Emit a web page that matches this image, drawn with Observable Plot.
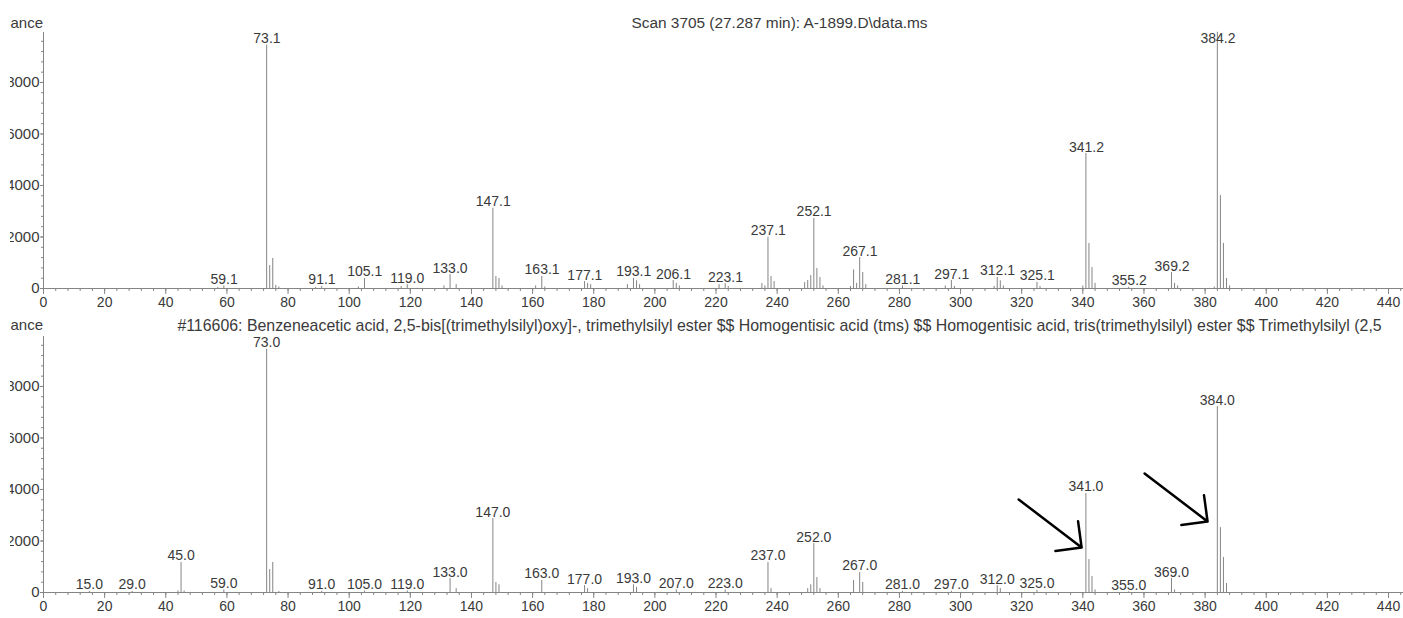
<!DOCTYPE html>
<html><head><meta charset="utf-8">
<script src="https://cdn.jsdelivr.net/npm/d3@7"></script>
<script src="https://cdn.jsdelivr.net/npm/@observablehq/plot@0.6"></script>
<style>
html,body{margin:0;padding:0;background:#fff;overflow:hidden;width:1403px;height:618px;}
#wrap{position:absolute;left:10px;top:0;width:1393px;height:618px;overflow:hidden;}
.panel{position:absolute;left:-10px;}
.panel svg{overflow:visible;}
</style></head><body>
<div id="wrap"><div id="p1" class="panel" style="top:0"></div><div id="p2" class="panel" style="top:304px"></div></div>
<script>
// ---- data ----
const topTitle = "Scan 3705 (27.287 min): A-1899.D\\data.ms";
const bottomTitle = "#116606: Benzeneacetic acid, 2,5-bis[(trimethylsilyl)oxy]-, trimethylsilyl ester $$ Homogentisic acid (tms) $$ Homogentisic acid, tris(trimethylsilyl) ester $$ Trimethylsilyl (2,5";
const yLabel = "Abundance";
const xTickLabels = [0, 20, 40, 60, 80, 100, 120, 140, 160, 180, 200, 220, 240, 260, 280, 300, 320, 340, 360, 380, 400, 420, 440];
const yTickLabels = [0, 2000, 4000, 6000, 8000];

const topMz = [57, 59, 73, 74, 75, 76, 77, 89, 91, 103, 105, 117, 119, 131, 133, 135, 147, 148, 149, 150, 161, 163, 164, 177, 178, 179, 191, 193, 194, 195, 206, 207, 208, 221, 223, 224, 235, 236, 237, 238, 239, 249, 250, 251, 252, 253, 254, 255, 264, 265, 266, 267, 268, 269, 281, 295, 297, 298, 311, 312, 313, 314, 325, 326, 340, 341, 342, 343, 344, 355, 369, 370, 371, 383, 384, 385, 386, 387, 388];
const topAb = [40, 100, 9450, 890, 1165, 120, 60, 40, 80, 60, 390, 80, 150, 100, 540, 150, 3110, 470, 390, 100, 100, 470, 60, 270, 200, 150, 150, 390, 300, 150, 310, 200, 100, 150, 190, 80, 190, 100, 1990, 466, 270, 230, 310, 500, 2720, 780, 430, 100, 80, 720, 200, 1200, 620, 150, 100, 100, 310, 80, 80, 430, 300, 100, 235, 80, 100, 5240, 1750, 815, 200, 50, 620, 200, 100, 60, 9950, 3610, 1750, 390, 100];
const topLabels = ["59.1", "73.1", "91.1", "105.1", "119.0", "133.0", "147.1", "163.1", "177.1", "193.1", "206.1", "223.1", "237.1", "252.1", "267.1", "281.1", "297.1", "312.1", "325.1", "341.2", "355.2", "369.2", "384.2"];

const botMz = [15, 29, 44, 45, 46, 59, 73, 74, 75, 77, 91, 105, 119, 133, 135, 147, 148, 149, 163, 177, 178, 193, 194, 207, 223, 237, 238, 250, 251, 252, 253, 254, 265, 267, 268, 281, 297, 312, 313, 325, 341, 342, 343, 344, 355, 369, 370, 384, 385, 386, 387];
const botAb = [40, 40, 60, 1165, 60, 100, 9450, 890, 1165, 40, 50, 60, 60, 540, 150, 2870, 390, 300, 466, 270, 150, 300, 200, 100, 100, 1165, 150, 150, 300, 1900, 580, 150, 466, 780, 390, 50, 50, 270, 150, 80, 3845, 1280, 620, 100, 30, 540, 100, 7220, 2520, 1360, 350];
const botLabels = ["15.0", "29.0", "45.0", "59.0", "73.0", "91.0", "105.0", "119.0", "133.0", "147.0", "163.0", "177.0", "193.0", "207.0", "223.0", "237.0", "252.0", "267.0", "281.0", "297.0", "312.0", "325.0", "341.0", "355.0", "369.0", "384.0"];

// annotation arrows on the library spectrum (m/z, abundance)
const arrowX1 = [319.0, 360.2];
const arrowY1 = [3612, 4621];
const arrowX2 = [339.6, 380.8];
const arrowY2 = [1748, 2757];

// ---- build ----
const FONT = "'Liberation Sans', Arial, Helvetica, sans-serif";
const TEXT = "#3a3a3a";
const GRAY = "#858585";
const minorX = d3.range(0, 445, 4);
const minorY = d3.range(0, 9941, 400);

function peaksOf(mz, ab) { return mz.map((m, i) => ({mz: m, ab: ab[i]})); }
function labelsOf(labels, peaks) {
  return labels.map(l => {
    const v = parseFloat(l);
    const p = peaks.find(d => d.mz === Math.round(v));
    return {mz: v, ab: p ? p.ab : 0, label: l};
  });
}

function panel(peaks, labels, title, titleDy, titleSize, height, marginBottom, extra = []) {
  return Plot.plot({
    width: 1403, height,
    marginLeft: 43, marginRight: 0, marginTop: 32, marginBottom,
    style: {fontFamily: FONT, fontSize: "14px", color: TEXT, background: "transparent", overflow: "visible"},
    x: {domain: [0, 444.9], axis: null},
    y: {domain: [0, 9940], axis: null},
    marks: [
      Plot.ruleY([0], {stroke: GRAY}),
      Plot.ruleX([0], {stroke: GRAY}),
      Plot.axisX({ticks: minorX, tickSize: 3, tickFormat: () => "", stroke: GRAY, label: null}),
      Plot.axisX({ticks: xTickLabels, tickSize: 6, tickPadding: 3, stroke: GRAY, fill: TEXT, fontSize: 14, label: null}),
      Plot.axisY({ticks: minorY, tickSize: 2, tickFormat: () => "", stroke: GRAY, label: null}),
      Plot.axisY({ticks: yTickLabels, tickSize: 3, tickPadding: 1, stroke: GRAY, fill: TEXT, fontSize: 15, tickFormat: d => String(d), label: null}),
      Plot.ruleX(peaks, {x: "mz", y1: 0, y2: "ab", stroke: GRAY, strokeWidth: 1}),
      Plot.text(labels, {x: "mz", y: d => Math.min(d.ab, 9450), text: "label", lineAnchor: "bottom", dy: -2, fill: TEXT, fontSize: 14}),
      Plot.text([title], {frameAnchor: "top", lineAnchor: "middle", dx: 56, dy: titleDy, fill: TEXT, fontSize: titleSize}),
      Plot.text([yLabel], {frameAnchor: "top-left", lineAnchor: "middle", textAnchor: "end", dx: -0.5, dy: titleDy, fill: TEXT, fontSize: 15}),
      ...extra
    ]
  });
}

const topPeaks = peaksOf(topMz, topAb);
const botPeaks = peaksOf(botMz, botAb);
const arrows = arrowX1.map((x, i) => ({x1: x, y1: arrowY1[i], x2: arrowX2[i], y2: arrowY2[i]}));

document.getElementById("p1").appendChild(
  panel(topPeaks, labelsOf(topLabels, topPeaks), topTitle, -9, 15.4, 318, 30));
document.getElementById("p2").appendChild(
  panel(botPeaks, labelsOf(botLabels, botPeaks), bottomTitle, -11, 15.9, 314, 26, [
    Plot.arrow(arrows, {x1: "x1", y1: "y1", x2: "x2", y2: "y2", stroke: "#000", strokeWidth: 2.5, headAngle: 90, headLength: 16, insetEnd: 0})
  ]));
</script>
</body></html>
